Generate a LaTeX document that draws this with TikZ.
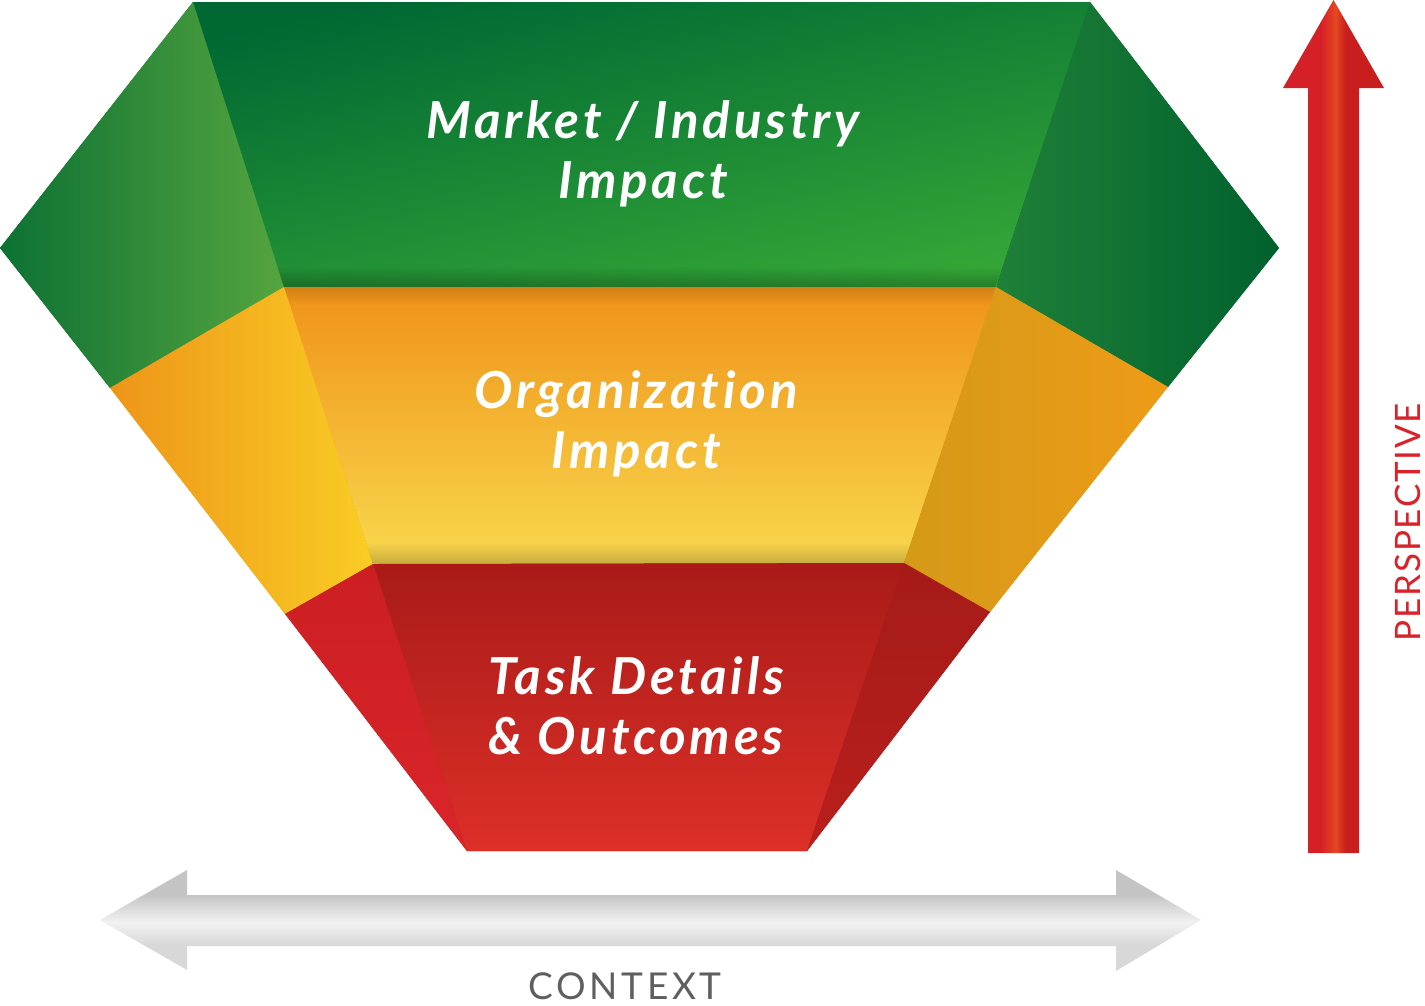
\documentclass[tikz,border=0pt]{standalone}
\usepackage{fontspec}
\setmainfont{Lato}
\newfontfamily\labfont[LetterSpace=7.5,Ligatures=NoCommon]{Lato}
\newfontfamily\capfont[LetterSpace=10,Ligatures=NoCommon]{Lato}
\newfontfamily\perspfont[LetterSpace=5,Ligatures=NoCommon]{Lato}
\usetikzlibrary{fadings}

\definecolor{gbase}{HTML}{0A7334}
\definecolor{obase}{HTML}{F0A020}
\definecolor{rbase}{HTML}{BB1F1C}
% green
\definecolor{gfTop}{HTML}{006833}
\definecolor{gfBot}{HTML}{34A737}
\definecolor{glOut}{HTML}{0C7133}
\definecolor{glIn}{HTML}{55A53F}
\definecolor{grIn}{HTML}{1F8038}
\definecolor{grOut}{HTML}{00612E}
% orange
\definecolor{ofTop}{HTML}{EF9218}
\definecolor{ofBot}{HTML}{F9D84E}
\definecolor{olOut}{HTML}{EE9519}
\definecolor{olIn}{HTML}{F9CD24}
\definecolor{orIn}{HTML}{D49A18}
\definecolor{orOut}{HTML}{EE9B17}
% red
\definecolor{rfTop}{HTML}{A91B18}
\definecolor{rfBot}{HTML}{DC2F28}
\definecolor{rlA}{HTML}{CC1F23}
\definecolor{rlB}{HTML}{D9252A}
\definecolor{rrA}{HTML}{A51B18}
\definecolor{rrB}{HTML}{B81F1C}
% arrows & text
\definecolor{ra1}{HTML}{D62027}
\definecolor{ra2}{HTML}{E5481F}
\definecolor{ra3}{HTML}{C81E1D}
\definecolor{ga1}{HTML}{C4C4C4}
\definecolor{ga2}{HTML}{F2F2F2}
\definecolor{ga3}{HTML}{D8D8D8}
\definecolor{ctxgrey}{HTML}{5F5F5F}
\definecolor{perspred}{HTML}{D8232A}

\pgfdeclarehorizontalshading{redarr}{100bp}{color(0bp)=(ra1); color(44bp)=(ra1); color(51bp)=(ra2); color(56bp)=(ra3); color(100bp)=(ra3)}
\pgfdeclareverticalshading{greyarr}{100bp}{color(0bp)=(ga3); color(38bp)=(ga3); color(49bp)=(ga2); color(63bp)=(ga1); color(100bp)=(ga1)}
\tikzfading[name=fadeup, top color=transparent!100, bottom color=transparent!0]
\tikzfading[name=fadedown, top color=transparent!0, bottom color=transparent!100]

\begin{document}
\begin{tikzpicture}[x=1pt,y=-1pt,
  lab/.style={text=white, font=\labfont\bfseries\itshape\fontsize{51}{60}\selectfont, align=center, inner sep=0pt, anchor=base},
  shadow/.style={fill=black, fill opacity=#1},
  shadow/.default=0.22]
\useasboundingbox[fill=white] (0,0) rectangle (1425,1005);

% key points of the faceted funnel
\coordinate (A) at (193,2);
\coordinate (B) at (1090,2);
\coordinate (L1) at (0,248);
\coordinate (R1) at (1279,248);
\coordinate (C) at (284,287);
\coordinate (D) at (996,287);
\coordinate (L2) at (110,388);
\coordinate (R2) at (1168,387);
\coordinate (E) at (373,564);
\coordinate (F) at (904,563);
\coordinate (L3) at (285,614);
\coordinate (R3) at (990,612);
\coordinate (G) at (467,851);
\coordinate (H) at (807,851);

% base fills (hide seams between facets)
\fill[gbase] (L1)--(A)--(B)--(R1)--(R2)--(D)--(C)--(L2)--cycle;
\fill[obase] (108,385)--(284,284)--(996,284)--(1170,384)--(R3)--(F)--(E)--(L3)--cycle;
\fill[rbase] (283,611)--(373,561)--(904,560)--(992,609)--(H)--(G)--cycle;

% green band
\shade[top color=gfTop, bottom color=gfBot, shading angle=12] (A)--(B)--(D)--(C)--cycle;
\shade[left color=glOut, right color=glIn] (A)--(L1)--(L2)--(C)--cycle;
\shade[left color=grIn, right color=grOut] (B)--(R1)--(R2)--(D)--cycle;
\fill[shadow=0.25, path fading=fadeup] (277,266)--(1003,266)--(D)--(C)--cycle;

% orange band
\shade[top color=ofTop, bottom color=ofBot] (C)--(D)--(F)--(E)--cycle;
\shade[left color=olOut, right color=olIn] (L2)--(C)--(E)--(L3)--cycle;
\shade[left color=orIn, right color=orOut] (D)--(R2)--(R3)--(F)--cycle;
\fill[shadow=0.12, path fading=fadedown] (C)--(D)--(990,305)--(290,305)--cycle;
\fill[shadow=0.2, path fading=fadeup] (366,542)--(911,542)--(F)--(E)--cycle;

% red band
\shade[top color=rfTop, bottom color=rfBot] (E)--(F)--(H)--(G)--cycle;
\shade[top color=rlA, bottom color=rlB] (L3)--(E)--(G)--cycle;
\shade[top color=rrA, bottom color=rrB] (F)--(R3)--(H)--cycle;

% labels
\node[lab] (market) at (643,198) {Market / Industry\\Impact};
\node[lab] (org) at (636,468) {Organization\\Impact};
\node[lab] (task) at (636,754) {Task Details\\\& Outcomes};

% perspective arrow
\shade[shading=redarr] (1308,853) -- (1308,88) -- (1283,88) -- (1333.5,0) -- (1384,88) -- (1359,88) -- (1359,853) -- cycle;
\node[inner sep=0pt, anchor=base, rotate=90, text=perspred, font=\perspfont\fontsize{35}{35}\selectfont] (persp) at (1420,522) {PERSPECTIVE};

% context arrow
\shade[shading=greyarr] (100,920) -- (187,870) -- (187,895) -- (1116,895) -- (1116,870) -- (1201,920) -- (1116,971) -- (1116,946) -- (187,946) -- (187,970) -- cycle;
\node[inner sep=0pt, anchor=base, text=ctxgrey, font=\capfont\fontsize{37}{37}\selectfont] (ctx) at (625,999) {CONTEXT};
\end{tikzpicture}
\end{document}
